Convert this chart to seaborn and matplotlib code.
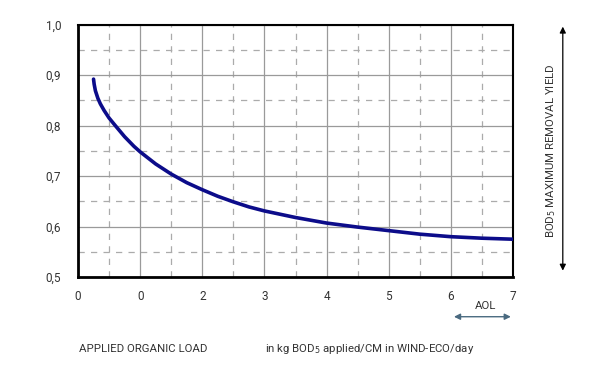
import numpy as np
import pandas as pd
import matplotlib
matplotlib.use("Agg")
import matplotlib.pyplot as plt
import seaborn as sns

# curve
load = [0.25, 0.26, 0.28, 0.32, 0.36, 0.42, 0.50, 0.60, 0.75, 0.90, 1.00, 1.25,
        1.50, 1.75, 2.00, 2.25, 2.50, 2.75, 3.00, 3.50, 4.00, 4.50, 5.00, 5.50,
        6.00, 6.50, 7.00]
yield_ = [0.892, 0.882, 0.869, 0.854, 0.843, 0.830, 0.815, 0.800, 0.778, 0.759,
          0.748, 0.724, 0.704, 0.687, 0.673, 0.660, 0.649, 0.639, 0.631, 0.618,
          0.607, 0.599, 0.592, 0.585, 0.580, 0.577, 0.575]

x_ticks = [0, 1, 2, 3, 4, 5, 6, 7]
x_tick_labels = ["0", "0", "2", "3", "4", "5", "6", "7"]
y_ticks = [0.5, 0.6, 0.7, 0.8, 0.9, 1.0]
y_tick_labels = ["0,5", "0,6", "0,7", "0,8", "0,9", "1,0"]

df = pd.DataFrame({"load": load, "yield": yield_})

sns.set_style("white")
plt.rcParams['font.family'] = ['Roboto', 'DejaVu Sans']
text_col = "#333333"

fig = plt.figure(figsize=(6, 3.67), dpi=100)
ax = fig.add_axes([0.13, 0.245, 0.725, 0.688])

# grid: solid on the main ticks, dashed in between
for xv in x_ticks:
    ax.axvline(xv, color="#9a9a9a", lw=0.9, zorder=1)
for xv in np.arange(0.5, 7, 1.0):
    ax.axvline(xv, color="#ababab", lw=0.9, ls=(0, (5, 5)), zorder=1)
for yv in y_ticks:
    ax.axhline(yv, color="#9a9a9a", lw=0.9, zorder=1)
for yv in np.arange(0.55, 1.0, 0.1):
    ax.axhline(yv, color="#ababab", lw=0.9, ls=(0, (5, 5)), zorder=1)

sns.lineplot(data=df, x="load", y="yield", ax=ax, color="#0c0c8a", lw=2.6,
             zorder=3, sort=True)

ax.set_xlim(0, 7)
ax.set_ylim(0.5, 1.0)
ax.set_xticks(x_ticks)
ax.set_xticklabels(x_tick_labels)
ax.set_yticks(y_ticks)
ax.set_yticklabels(y_tick_labels)
ax.tick_params(length=0, labelsize=8.5, colors=text_col)
ax.tick_params(axis="y", pad=12)
ax.tick_params(axis="x", pad=9)
ax.set_xlabel("")
ax.set_ylabel("")
for side in ["left", "bottom"]:
    ax.spines[side].set_linewidth(2.0)
for side in ["top", "right"]:
    ax.spines[side].set_linewidth(1.5)
for s in ax.spines.values():
    s.set_color("black")
    s.set_visible(True)

# bottom texts
fig.text(0.132, 0.05, "APPLIED ORGANIC LOAD", fontsize=8.2, color=text_col,
         ha="left", va="center")
fig.text(0.442, 0.05, r"in kg BOD$_5$ applied/CM in WIND-ECO/day", fontsize=8.2,
         color=text_col, ha="left", va="center")

# AOL arrow
fig.text(0.81, 0.165, "AOL", fontsize=8.2, color=text_col, ha="center", va="center")
fig.patches.append(matplotlib.patches.FancyArrowPatch(
    (0.752, 0.137), (0.856, 0.137), transform=fig.transFigure,
    arrowstyle="<|-|>", mutation_scale=9, color="#4a6a80", lw=1.0))

# right vertical arrow and label
fig.patches.append(matplotlib.patches.FancyArrowPatch(
    (0.938, 0.255), (0.938, 0.935), transform=fig.transFigure,
    arrowstyle="<|-|>", mutation_scale=9, color="black", lw=0.9))
fig.text(0.918, 0.59, r"BOD$_5$ MAXIMUM REMOVAL YIELD", fontsize=8.2, color=text_col,
         rotation=90, ha="center", va="center")

fig.savefig("out.png", dpi=100)
